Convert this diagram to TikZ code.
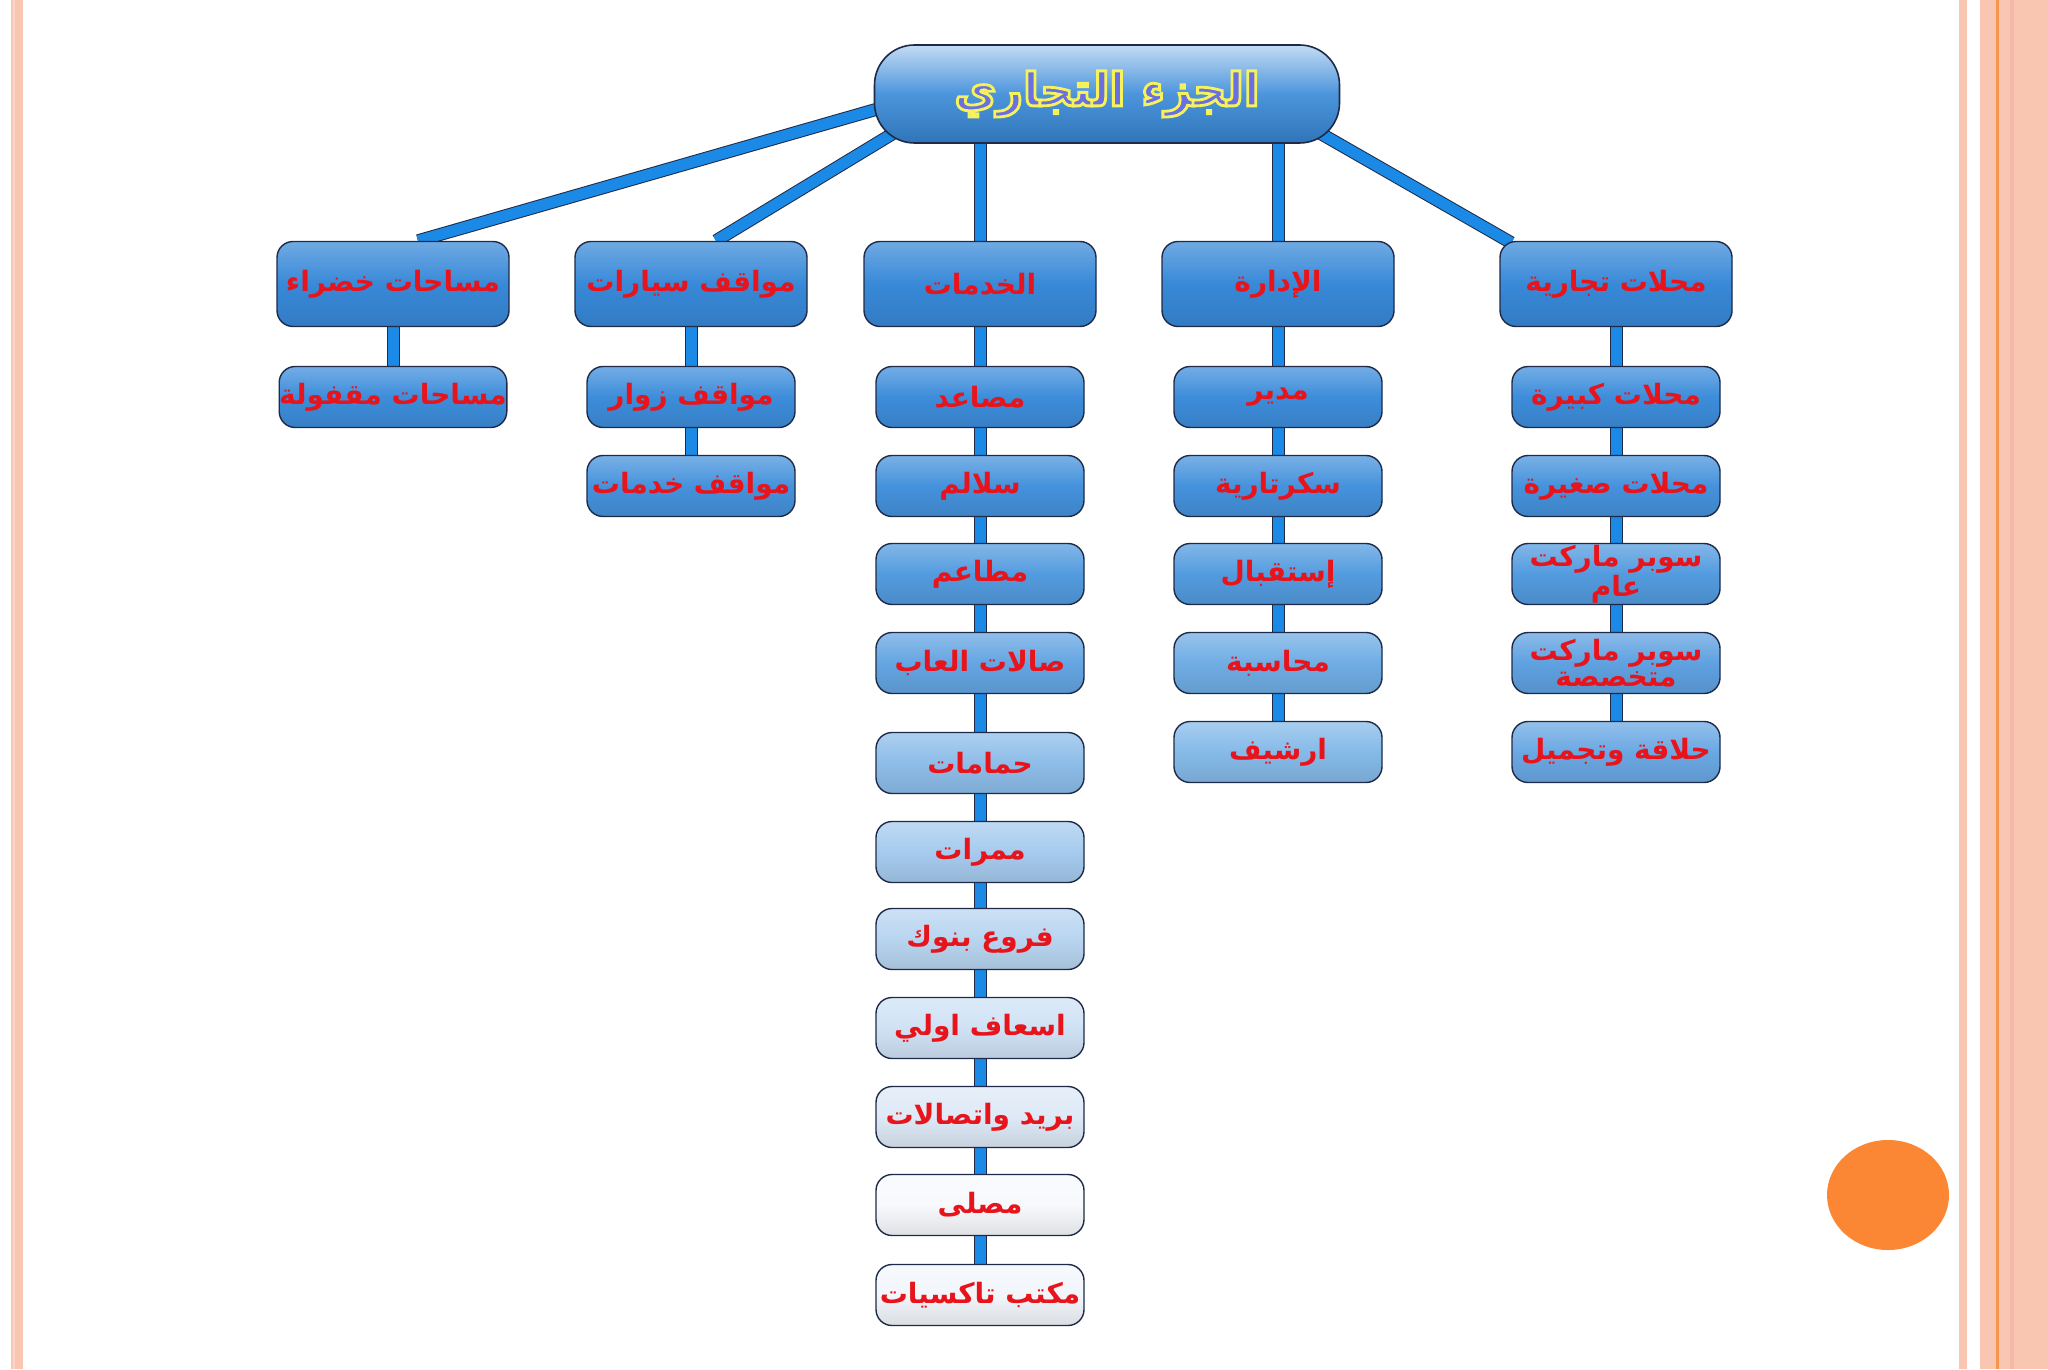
\documentclass[tikz,border=0pt]{standalone}
\usepackage{fontspec}
\usetikzlibrary{backgrounds,calc}
\TeXXeTstate=1
\newfontfamily\arabicfont[Script=Arabic]{DejaVu Sans}
\definecolor{arred}{HTML}{E8141C}
\definecolor{linkblue}{HTML}{1A8AE6}
\definecolor{edge}{HTML}{1E2A48}
\definecolor{salmon}{HTML}{F9C6B2}
\definecolor{salmonline}{HTML}{F6B8A8}
\definecolor{orangeline}{HTML}{F7944E}
\definecolor{dot}{HTML}{FB8634}
\definecolor{rootfill}{HTML}{6A70E0}
\definecolor{cA}{HTML}{3889D8}
\definecolor{cB}{HTML}{3D8DDB}
\definecolor{cC}{HTML}{4592DC}
\definecolor{cD}{HTML}{539BDF}
\definecolor{cE}{HTML}{64A5E2}
\definecolor{cF}{HTML}{8DBDE9}
\definecolor{cG}{HTML}{A6CBEE}
\definecolor{cH}{HTML}{B8D5F0}
\definecolor{cI}{HTML}{CFE2F5}
\definecolor{cJ}{HTML}{DDE9F6}
\definecolor{cK}{HTML}{F7F9FD}
\definecolor{cL}{HTML}{F2F6FB}
\definecolor{cM}{HTML}{6FADE4}
\definecolor{cN}{HTML}{85BAE8}
\definecolor{cO}{HTML}{5FA1E1}
\definecolor{cP}{HTML}{6AA8E3}
\newcommand\artx[1]{\beginR #1\endR}
\newcommand\lblfont{\arabicfont\bfseries\fontsize{14}{13}\selectfont}
% outlined text: fill in current colour, yellow stroke
\newcommand\outlinetext[1]{\special{pdf:literal direct 2 Tr 1.4 w 0.965 0.949 0.361 RG}#1\special{pdf:literal direct 0 Tr}}
\tikzset{
  conn/.style={line width=0.5pt, draw=edge, double=linkblue, double distance=5.5pt},
  bigbox/.style={draw=edge, line width=0.7pt, rounded corners=8pt,
    minimum width=116pt, minimum height=42.5pt, inner sep=0pt,
    top color=#1!72!white, bottom color=#1!90!black, middle color=#1,
    text=arred, font=\lblfont, align=center},
  smallbox/.style={bigbox=#1, minimum width=104pt, minimum height=30.5pt},
}
\begin{document}
\begin{tikzpicture}[x=0.5pt, y=-0.5pt]
\useasboundingbox (0,0) rectangle (2048,1369);

% root
\node[draw=edge, line width=0.8pt, rounded corners=20pt, minimum width=232.5pt,
  minimum height=49pt, top color=cA!30!white, bottom color=cA!85!black,
  middle color=cA!90!white, text=rootfill] (root) at (1107,94)
  {\arabicfont\bfseries\fontsize{23}{26}\selectfont\outlinetext{\artx{الجزء التجاري}}};

% level 1
\node[bigbox=cA] (green) at (393,284) {\artx{مساحات خضراء}};
\node[bigbox=cA] (park) at (691,284) {\artx{مواقف سيارات}};
\node[bigbox=cA] (serv) at (980,284) {\artx{الخدمات}};
\node[bigbox=cA] (admin) at (1278,284) {\artx{الإدارة}};
\node[bigbox=cA] (shops) at (1616,284) {\artx{محلات تجارية}};

% green spaces
\node[smallbox=cB] (g1) at (393,397) {\artx{مساحات مقفولة}};
% parking
\node[smallbox=cB] (p1) at (691,397) {\artx{مواقف زوار}};
\node[smallbox=cC] (p2) at (691,486) {\artx{مواقف خدمات}};
% services
\node[smallbox=cB] (s1) at (980,397) {\artx{مصاعد}};
\node[smallbox=cC] (s2) at (980,486) {\artx{سلالم}};
\node[smallbox=cD] (s3) at (980,574) {\artx{مطاعم}};
\node[smallbox=cE] (s4) at (980,663) {\artx{صالات العاب}};
\node[smallbox=cF] (s5) at (980,763) {\artx{حمامات}};
\node[smallbox=cG] (s6) at (980,852) {\artx{ممرات}};
\node[smallbox=cH] (s7) at (980,939) {\artx{فروع بنوك}};
\node[smallbox=cI] (s8) at (980,1028) {\artx{اسعاف اولي}};
\node[smallbox=cJ] (s9) at (980,1117) {\artx{بريد واتصالات}};
\node[smallbox=cK] (s10) at (980,1205) {\artx{مصلى}};
\node[smallbox=cL] (s11) at (980,1295) {\artx{مكتب تاكسيات}};
% administration
\node[smallbox=cB] (a1) at (1278,397) {\artx{مدير}};
\node[smallbox=cC] (a2) at (1278,486) {\artx{سكرتارية}};
\node[smallbox=cD] (a3) at (1278,574) {\artx{إستقبال}};
\node[smallbox=cM] (a4) at (1278,663) {\artx{محاسبة}};
\node[smallbox=cN] (a5) at (1278,752) {\artx{ارشيف}};
% shops
\node[smallbox=cB] (h1) at (1616,397) {\artx{محلات كبيرة}};
\node[smallbox=cC] (h2) at (1616,486) {\artx{محلات صغيرة}};
\node[smallbox=cD] (h3) at (1616,574) {\artx{سوبر ماركت}\\\artx{عام}};
\node[smallbox=cO] (h4) at (1616,663) {\artx{سوبر ماركت}\\\artx{متخصصة}};
\node[smallbox=cP] (h5) at (1616,752) {\artx{حلاقة وتجميل}};

\begin{scope}[on background layer]
% page decoration
\fill[white] (0,0) rectangle (2048,1369);
\fill[salmon] (11,0) rectangle (23,1369);
\fill[salmonline!60!white] (13,0) rectangle (15,1369);
\fill[salmon] (1959,0) rectangle (1967,1369);
\fill[salmon] (1980,0) rectangle (2048,1369);
\fill[orangeline] (1995.5,0) rectangle (1998.5,1369);
\fill[salmonline] (2010,0) rectangle (2014,1369);
\fill[dot] (1888,1195) ellipse [x radius=61, y radius=55];
% connectors
\draw[conn] ($(root.west)+(105,-14)$) -- ($(green.north)+(25,0)$);
\draw[conn] ($(root.south west)+(65,-38)$) -- ($(park.north)+(25,0)$);
\draw[conn] ($(root.south east)+(-68,-38)$) -- ($(shops.north west)+(12,2)$);
\draw[conn] (root.south -| serv.north) -- (serv.north);
\draw[conn] (root.south -| admin.north) -- (admin.north);
\draw[conn] (green) -- (g1);
\draw[conn] (park) -- (p1);
\draw[conn] (p1) -- (p2);
\draw[conn] (serv) -- (s1);
\draw[conn] (s1) -- (s2);
\draw[conn] (s2) -- (s3);
\draw[conn] (s3) -- (s4);
\draw[conn] (s4) -- (s5);
\draw[conn] (s5) -- (s6);
\draw[conn] (s6) -- (s7);
\draw[conn] (s7) -- (s8);
\draw[conn] (s8) -- (s9);
\draw[conn] (s9) -- (s10);
\draw[conn] (s10) -- (s11);
\draw[conn] (admin) -- (a1);
\draw[conn] (a1) -- (a2);
\draw[conn] (a2) -- (a3);
\draw[conn] (a3) -- (a4);
\draw[conn] (a4) -- (a5);
\draw[conn] (shops) -- (h1);
\draw[conn] (h1) -- (h2);
\draw[conn] (h2) -- (h3);
\draw[conn] (h3) -- (h4);
\draw[conn] (h4) -- (h5);
\end{scope}
\end{tikzpicture}
\end{document}
